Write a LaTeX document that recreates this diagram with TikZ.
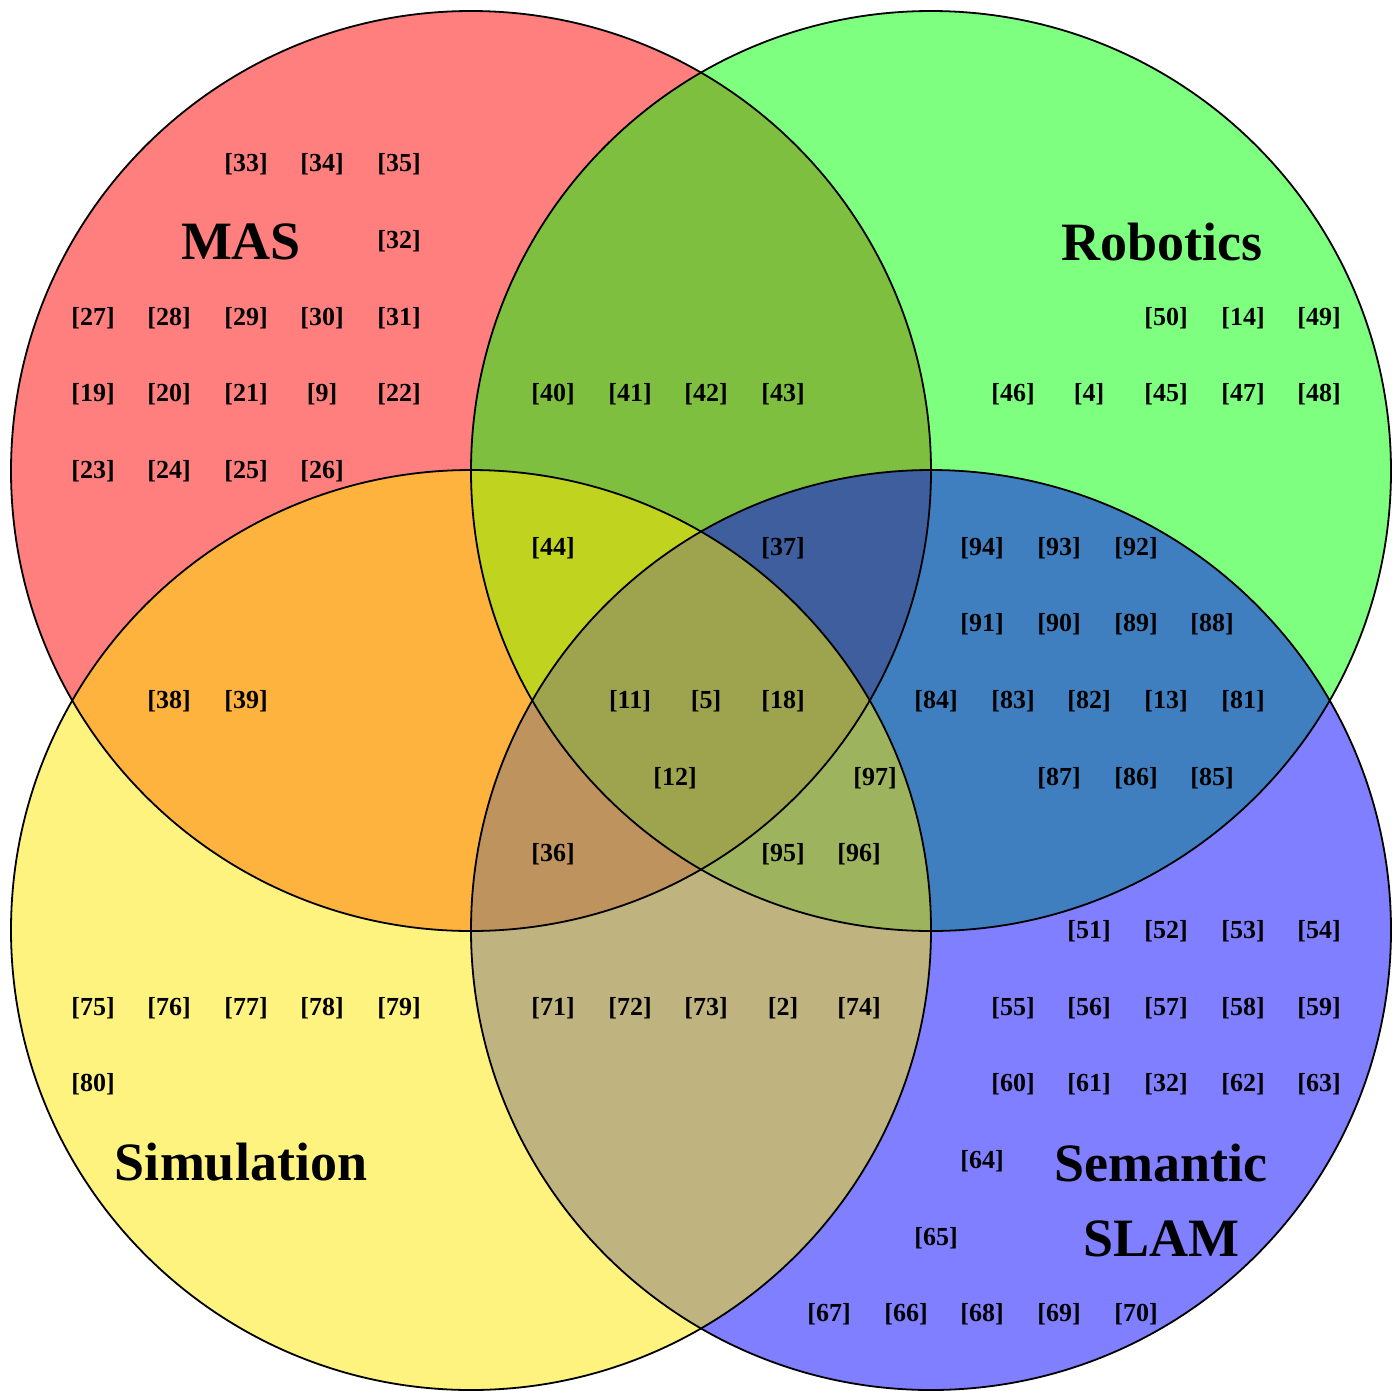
\documentclass[tikz,border=0pt]{standalone}
\usepackage{fontspec}
\setmainfont{Liberation Serif}
\definecolor{cred}{RGB}{255,0,0}
\definecolor{cgreen}{RGB}{0,255,0}
\definecolor{cblue}{RGB}{0,0,255}
\definecolor{cyellow}{RGB}{255,232,0}
\tikzset{
  lbl/.style={font=\fontsize{26}{26}\selectfont\bfseries, inner sep=0pt, yshift=-1.5pt},
  ttl/.style={font=\fontsize{54}{60}\selectfont\bfseries, inner sep=0pt, align=center},
  ring/.style={line width=1.8pt},
}
\begin{document}
\begin{tikzpicture}[x=1pt,y=-1pt]
\useasboundingbox (0,0) rectangle (1400,1390);
% circles (fill order: red, green, blue, yellow)
\fill[cred, fill opacity=0.5] (471,471) circle[radius=460];
\fill[cgreen, fill opacity=0.5] (931,471) circle[radius=460];
\fill[cblue, fill opacity=0.5] (931,930) circle[radius=460];
\fill[cyellow, fill opacity=0.5] (471,930) circle[radius=460];
\draw[ring] (471,471) circle[radius=460];
\draw[ring] (931,471) circle[radius=460];
\draw[ring] (931,930) circle[radius=460];
\draw[ring] (471,930) circle[radius=460];
% titles
\node[ttl] (tmas) at (241,242) {MAS};
\node[ttl] (trob) at (1162,242) {Robotics};
\node[ttl] (tsim) at (241,1162) {Simulation};
\node[ttl] (tsem) at (1161,1163) {Semantic};
\node[ttl] (tslam) at (1161,1239) {SLAM};
% labels
\foreach \t/\x/\y [count=\i] in {
  33/246/163, 34/322/163, 35/399/163,
  32/399/240,
  27/93/317, 28/169/317, 29/246/317, 30/322/317, 31/399/317,
  50/1166/317, 14/1243/317, 49/1319/317,
  19/93/393, 20/169/393, 21/246/393, 9/322/393, 22/399/393,
  40/553/393, 41/630/393, 42/706/393, 43/783/393,
  46/1013/393, 4/1089/393, 45/1166/393, 47/1243/393, 48/1319/393,
  23/93/470, 24/169/470, 25/246/470, 26/322/470,
  44/553/547, 37/783/547, 94/982/547, 93/1059/547, 92/1136/547,
  91/982/623, 90/1059/623, 89/1136/623, 88/1212/623,
  38/169/700, 39/246/700, 11/630/700, 5/706/700, 18/783/700,
  84/936/700, 83/1013/700, 82/1089/700, 13/1166/700, 81/1243/700,
  12/675/777, 97/875/777, 87/1059/777, 86/1136/777, 85/1212/777,
  36/553/853, 95/783/853, 96/859/853,
  51/1089/930, 52/1166/930, 53/1243/930, 54/1319/930,
  75/93/1007, 76/169/1007, 77/246/1007, 78/322/1007, 79/399/1007,
  71/553/1007, 72/630/1007, 73/706/1007, 2/783/1007, 74/859/1007,
  55/1013/1007, 56/1089/1007, 57/1166/1007, 58/1243/1007, 59/1319/1007,
  80/93/1083,
  60/1013/1083, 61/1089/1083, 32/1166/1083, 62/1243/1083, 63/1319/1083,
  64/982/1160, 65/936/1237,
  67/829/1313, 66/906/1313, 68/982/1313, 69/1059/1313, 70/1136/1313}
  \node[lbl] (l\i) at (\x,\y) {[\t]};
\end{tikzpicture}
\end{document}
